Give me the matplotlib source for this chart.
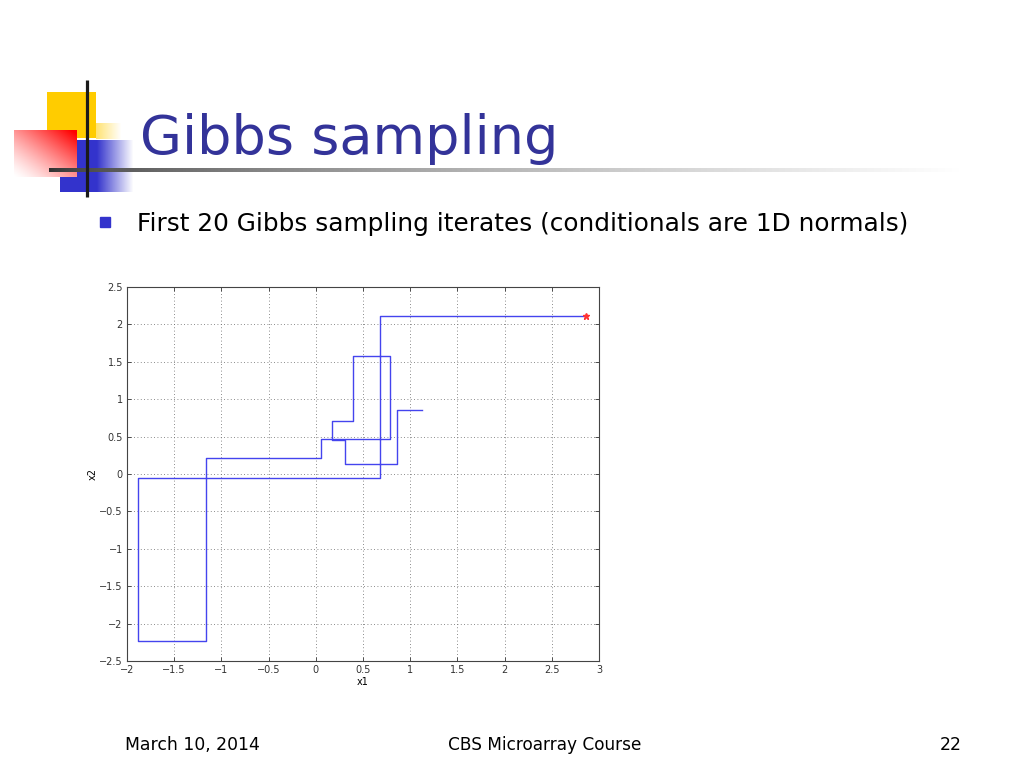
import matplotlib
matplotlib.use("Agg")
import matplotlib.pyplot as plt
import numpy as np
from matplotlib.ticker import FuncFormatter

# Gibbs iterates: alternate x1 / x2 updates
x1_vals = [2.86, 0.68, -1.88, -1.16, 0.055, 0.786, 0.394, 0.172, 0.309, 0.860, 1.125]
x2_vals = [2.11, -0.053, -2.233, 0.214, 0.468, 1.578, 0.709, 0.455, 0.134, 0.856]

x_ticks = np.arange(-2, 3.01, 0.5)
y_ticks = np.arange(-2.5, 2.51, 0.5)

title = "Gibbs sampling"
bullet_text = "First 20 Gibbs sampling iterates (conditionals are 1D normals)"
footer_left = "March 10, 2014"
footer_mid = "CBS Microarray Course"
footer_right = "22"

# staircase path: (x0,y0) -> (x1,y0) -> (x1,y1) -> ...
path_x, path_y = [x1_vals[0]], [x2_vals[0]]
for i in range(1, len(x1_vals)):
    path_x.append(x1_vals[i]); path_y.append(x2_vals[i - 1])
    if i < len(x2_vals):
        path_x.append(x1_vals[i]); path_y.append(x2_vals[i])

W, H = 1024, 768
fig = plt.figure(figsize=(W / 100, H / 100), dpi=100)
fig.patch.set_facecolor("white")

# slide layer in pixel coordinates
bg = fig.add_axes([0, 0, 1, 1])
bg.set_xlim(0, W)
bg.set_ylim(H, 0)
bg.axis("off")


def grad_rect(ax, x0, x1, y0, y1, color, alpha_fn, opaque=False):
    nx, ny = max(int(x1 - x0), 2), max(int(y1 - y0), 2)
    gx, gy = np.meshgrid(np.linspace(0, 1, nx), np.linspace(0, 1, ny))
    a = np.clip(alpha_fn(gx, gy), 0, 1)
    img = np.ones((ny, nx, 4))
    rgb = np.array(matplotlib.colors.to_rgb(color))
    if opaque:
        # blend with white instead of being see-through
        img[..., :3] = 1 - a[..., None] * (1 - rgb)
    else:
        img[..., :3] = rgb
        img[..., 3] = a
    ax.imshow(img, extent=(x0, x1, y1, y0), origin="upper", interpolation="bilinear",
              aspect="auto", zorder=2)


# yellow block + fade
grad_rect(bg, 47, 96, 92, 138, "#FFCC00", lambda gx, gy: np.ones_like(gx))
grad_rect(bg, 96, 122, 123, 139, "#FFCC00", lambda gx, gy: 0.55 * (1 - gx))
# blue block fading to the right
grad_rect(bg, 60, 134, 140, 192, "#3333CC",
          lambda gx, gy: np.where(gx < 0.5, 1.0, 1 - (gx - 0.5) / 0.5))
# red block, red at top right fading to white at bottom left
grad_rect(bg, 14, 77, 130, 177, "#FF0000",
          lambda gx, gy: ((gx + (1 - gy)) / 2) ** 1.3 * 1.05, opaque=True)
# horizontal rule fading out
nx = 911
g = np.linspace(0, 1, nx) ** 0.6
rule = np.ones((1, nx, 3)) * (0.18 + 0.82 * g)[None, :, None]
bg.imshow(rule, extent=(49, 960, 172, 168), aspect="auto", interpolation="bilinear", zorder=3)
# vertical rule
bg.plot([87, 87], [80, 197], color="#1a1a1a", lw=2.3, zorder=4, solid_capstyle="butt")

bg.text(140, 154, title, color="#333399", fontsize=39, family="DejaVu Sans", va="baseline", zorder=5)
bg.add_patch(plt.Rectangle((100, 217), 10, 10, color="#3333CC", zorder=5))
bg.text(137, 231, bullet_text, color="black", fontsize=17.8, family="DejaVu Sans", va="baseline")

ffam = "DejaVu Sans"
bg.text(125, 750, footer_left, fontsize=12.4, family=ffam, va="baseline")
bg.text(545, 750, footer_mid, fontsize=12.2, family=ffam, va="baseline", ha="center")
bg.text(962, 750, footer_right, fontsize=12.4, family=ffam, va="baseline", ha="right")

# MATLAB-style plot
ax = fig.add_axes([127 / W, 1 - 661 / H, 472 / W, 374 / H])
ax.plot(path_x, path_y, color="#4444ee", lw=1.0)
ax.plot(path_x[0], path_y[0], marker="*", color="#ff3333", ms=5, ls="none")
ax.set_xlim(-2, 3)
ax.set_ylim(-2.5, 2.5)
ax.set_xticks(x_ticks)
ax.set_yticks(y_ticks)
fmt = FuncFormatter(lambda v, p: ("%g" % round(v, 2)).replace("-", "\u2212"))
ax.xaxis.set_major_formatter(fmt)
ax.yaxis.set_major_formatter(fmt)
ax.tick_params(direction="in", top=True, right=True, labelsize=7, length=3,
               width=0.6, colors="#333333", pad=3)
ax.grid(True, color="#666666", lw=0.6, dashes=(1, 3))
for s in ax.spines.values():
    s.set_color("#444444")
    s.set_linewidth(0.8)
ax.set_xlabel("x1", fontsize=7, labelpad=1)
ax.set_ylabel("x2", fontsize=7, labelpad=1)

fig.savefig("out.png", dpi=100, facecolor="white")
